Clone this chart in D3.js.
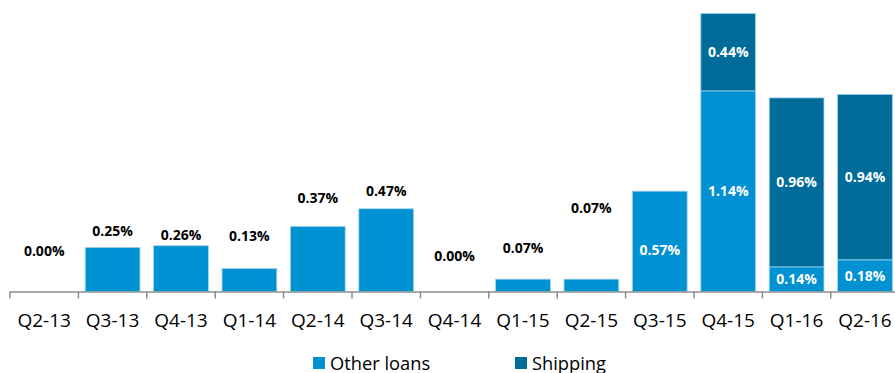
<!DOCTYPE html>
<html>
<head>
<meta charset="utf-8">
<script src="https://cdn.jsdelivr.net/npm/d3@7"></script>
<style>
  html, body { margin: 0; padding: 0; background: #fff; }
  svg { display: block; }
</style>
</head>
<body>
<svg id="chart" width="895" height="373"></svg>
<script>
// Quarterly cost of risk by portfolio (%)
const quarters = ["Q2-13","Q3-13","Q4-13","Q1-14","Q2-14","Q3-14","Q4-14","Q1-15","Q2-15","Q3-15","Q4-15","Q1-16","Q2-16"];
const otherLoans = [0.00, 0.25, 0.26, 0.13, 0.37, 0.47, 0.00, 0.07, 0.07, 0.57, 1.14, 0.14, 0.18];
const shipping   = [0,    0,    0,    0,    0,    0,    0,    0,    0,    0,    0.44, 0.96, 0.94];
const seriesNames = ["Other loans", "Shipping"];

// Label placement: lift (px) of single-series labels above their bar top;
// null means the label sits inside the bar segment.
const labelLift = [40, 16, 11, 33, 28, 18, 35, 31, 71, null, null, null, null];
const insideShift = [0, 0, 0, 0, 0, 0, 0, 0, 0, 9, 0, 0, 0];

const colors = { "Other loans": "#0091d2", "Shipping": "#006c99" };

const svg = d3.select("#chart");
const baseY = 291.5;

const x = d3.scaleBand()
  .domain(quarters)
  .range([10, 10 + 13 * 68.4])
  .paddingInner(0.2)
  .paddingOuter(0.1);

const y = d3.scaleLinear()
  .domain([0, 1.6])
  .range([baseY, baseY - 1.6 * 176]);

const rows = quarters.map((q, i) => ({ q, "Other loans": otherLoans[i], "Shipping": shipping[i], i }));
const stack = d3.stack().keys(seriesNames)(rows);

// Bars
svg.append("g").selectAll("g")
  .data(stack)
  .join("g")
  .attr("fill", d => colors[d.key])
  .selectAll("rect")
  .data(d => d.filter(p => p[1] - p[0] > 0))
  .join("rect")
  .attr("x", d => x(d.data.q))
  .attr("width", x.bandwidth())
  .attr("y", d => y(d[1]))
  .attr("height", d => y(d[0]) - y(d[1]))
  .attr("stroke", "#9fd0ec")
  .attr("stroke-width", 0.8);

// Category axis with ticks at category boundaries
const axisG = svg.append("g");
const step = x.step();
const x0 = x.range()[0];
axisG.append("line")
  .attr("x1", x0).attr("x2", 895)
  .attr("y1", baseY + 0.5).attr("y2", baseY + 0.5)
  .attr("stroke", "#8c8c8c").attr("stroke-width", 1.5);
axisG.selectAll("line.tick")
  .data(d3.range(quarters.length + 1))
  .join("line")
  .attr("class", "tick")
  .attr("x1", k => x0 + k * step).attr("x2", k => x0 + k * step)
  .attr("y1", baseY).attr("y2", baseY + 7)
  .attr("stroke", "#8c8c8c").attr("stroke-width", 1.5);
axisG.selectAll("text")
  .data(quarters)
  .join("text")
  .attr("x", q => x(q) + x.bandwidth() / 2)
  .attr("y", 327)
  .attr("text-anchor", "middle")
  .attr("font-family", "'Open Sans', sans-serif")
  .attr("font-size", 19)
  .attr("fill", "#000")
  .text(q => q);

// Value labels
const fmt = v => v.toFixed(2) + "%";
const labels = svg.append("g")
  .attr("font-family", "'Open Sans', sans-serif")
  .attr("font-weight", "bold")
  .attr("font-size", 14)
  .attr("text-anchor", "middle");

rows.forEach((r, i) => {
  const cx = x(r.q) + x.bandwidth() / 2;
  if (labelLift[i] !== null) {
    labels.append("text")
      .attr("x", cx)
      .attr("y", y(otherLoans[i]) - labelLift[i])
      .attr("dy", "0.35em")
      .attr("fill", "#000")
      .text(fmt(otherLoans[i]));
  } else {
    stack.forEach(s => {
      const p = s[i];
      if (p[1] - p[0] <= 0) return;
      labels.append("text")
        .attr("x", cx)
        .attr("y", (y(p[0]) + y(p[1])) / 2 + insideShift[i])
        .attr("dy", "0.35em")
        .attr("fill", "#fff")
        .text(fmt(p[1] - p[0]));
    });
  }
});

// Legend
const legend = svg.append("g");
const legendX = [313, 515];
seriesNames.forEach((name, k) => {
  legend.append("rect")
    .attr("x", legendX[k]).attr("y", 357)
    .attr("width", 12).attr("height", 12)
    .attr("fill", colors[name]);
  legend.append("text")
    .attr("x", legendX[k] + 17).attr("y", 369.5)
    .attr("font-family", "'Open Sans', sans-serif")
    .attr("font-size", 18.3)
    .attr("fill", "#000")
    .text(name);
});
</script>
</body>
</html>
